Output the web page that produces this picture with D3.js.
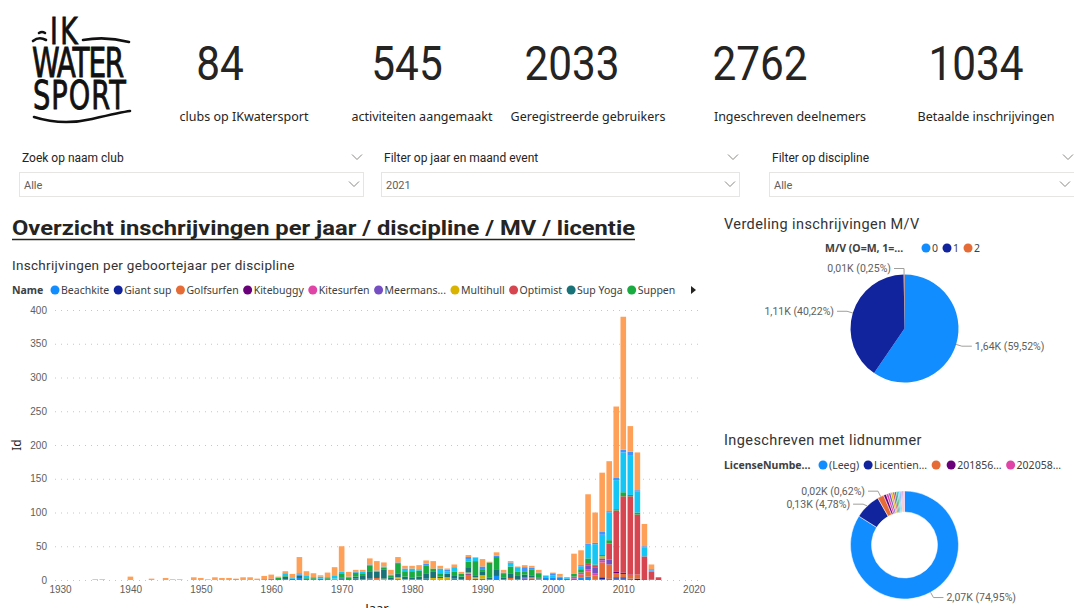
<!DOCTYPE html>
<meta charset="utf-8">
<style>

body { margin: 0; background: #fff; }
svg { display: block; font-family: "Noto Sans", "Segoe UI", sans-serif; }

.kpi-value { font-family: Roboto, sans-serif; font-size: 48px; fill: #252423; }
.kpi-label { font-size: 12.5px; fill: #252423; }
.slicer-title { font-family: Roboto, sans-serif; font-size: 12px; fill: #252423; }
.slicer-value { font-family: Roboto, sans-serif; font-size: 11px; fill: #605E5C; }
.chev { fill: none; stroke: #8a8886; stroke-width: 1; }
.axis text { font-size: 10px; fill: #605E5C; }
.grid line { stroke: #c8c6c4; stroke-dasharray: 1,5; }
.legend text { font-size: 10.5px; fill: #404040; }
.lead { fill: none; stroke: #a19f9d; stroke-width: 1; }
.dlabel { font-family: Roboto, sans-serif; font-size: 10.5px; fill: #605E5C; }
.vtitle { font-family: Roboto, sans-serif; font-size: 14.5px; letter-spacing: 0.4px; fill: #333; }

</style>
<svg width="1074" height="608"></svg>
<script src="https://d3js.org/d3.v7.min.js"></script>
<script>

// KPI cards
var kpiValues = [84, 545, 2033, 2762, 1034];
var kpiLabels = ["clubs op IKwatersport", "activiteiten aangemaakt", "Geregistreerde gebruikers",
                 "Ingeschreven deelnemers", "Betaalde inschrijvingen"];

// slicers
var slicerTitles = ["Zoek op naam club", "Filter op jaar en maand event", "Filter op discipline"];
var slicerValues = ["Alle", "2021", "Alle"];

// stacked bars: registrations per birth year per discipline
var years = [1935,1936,1937,1938,1939,1940,1941,1942,1943,1944,
             1945,1946,1947,1948,1949,1950,1951,1952,1953,1954,
             1955,1956,1957,1958,1959,1960,1961,1962,1963,1964,
             1965,1966,1967,1968,1969,1970,1971,1972,1973,1974,
             1975,1976,1977,1978,1979,1980,1981,1982,1983,1984,
             1985,1986,1987,1988,1989,1990,1991,1992,1993,1994,
             1995,1996,1997,1998,1999,2000,2001,2002,2003,2004,
             2005,2006,2007,2008,2009,2010,2011,2012,2013,2014,
             2015];

var beachkite = [0,0,0,0,0,0,0,0,0,0, 0,0,0,0,0,0,0,0,0,0, 0,0,0,0,0,1,0,1,2,3,
                 2,1,2,0,1,2,0,2,1,1, 1,0,0,0,0,1,1,2,1,0, 1,2,1,0,0,2,1,6,1,1,
                 1,2,2,1,3,4,3,2,2,4, 5,1,1,1,2,2,2,0,0,1, 0];
var giantSup  = [0,0,0,0,0,0,0,0,0,0, 0,0,0,0,0,0,0,0,0,0, 0,0,0,0,0,0,0,0,0,0,
                 0,0,0,0,0,0,0,0,0,0, 0,0,0,0,0,0,0,0,0,0, 0,0,0,0,0,0,0,0,0,0,
                 0,0,0,0,0,0,0,0,0,0, 0,0,3,1,2,2,0,2,1,0, 0];
var golfsurfen = [0,0,0,0,0,0,0,0,0,0, 0,0,0,0,0,0,0,0,0,0, 0,0,0,0,0,0,0,0,0,0,
                 0,0,0,0,0,0,0,0,0,0, 2,0,0,2,0,0,0,0,0,0, 0,0,0,8,0,0,0,0,0,2,
                 0,0,2,1,0,0,0,0,0,4, 8,6,22,21,6,5,5,6,0,0, 0];
var kitebuggy = [0,0,0,0,0,0,0,0,0,0, 0,0,0,0,0,0,0,0,0,0, 0,0,0,0,0,0,0,0,0,0,
                 0,0,0,0,0,0,0,0,0,0, 0,0,0,0,0,0,0,0,0,0, 0,0,0,1,0,0,0,0,0,0,
                 0,0,0,0,0,0,0,0,0,0, 0,0,0,0,2,2,1,0,0,0, 0];
var kitesurfen = [0,0,0,0,0,0,0,0,0,0, 0,0,0,0,0,0,0,0,0,0, 0,0,0,0,0,0,0,0,0,0,
                 0,0,0,0,0,0,0,0,0,0, 0,0,0,0,0,0,0,0,0,0, 0,0,0,0,0,0,0,0,0,0,
                 0,0,0,0,0,0,0,0,3,3, 3,3,3,0,0,0,0,0,0,0, 0];
var meermans  = [0,0,0,0,0,0,0,0,0,0, 0,0,0,0,0,0,0,0,0,0, 0,0,0,0,0,1,0,0,0,0,
                 0,0,0,1,0,0,0,0,0,1, 0,0,1,0,0,0,0,0,0,0, 0,0,0,0,2,0,0,0,0,0,
                 0,2,0,0,0,0,0,0,0,0, 5,8,3,7,0,0,0,0,0,0, 0];
var multihull = [0,0,0,0,0,0,0,0,0,0, 0,0,0,0,0,0,0,0,0,0, 0,0,0,0,0,0,0,0,0,0,
                 0,0,0,0,1,0,0,0,0,0, 0,2,0,2,1,0,0,0,2,3, 3,0,0,2,2,5,0,0,0,0,
                 0,0,0,0,0,0,0,0,0,0, 0,0,3,0,0,0,0,0,0,0, 0];
var optimist  = [0,0,0,0,0,0,0,0,0,0, 0,0,0,0,0,0,0,0,0,0, 0,0,0,0,0,0,0,0,0,0,
                 0,0,0,0,0,0,0,0,0,0, 0,0,0,0,0,0,0,0,0,0, 0,0,0,0,0,0,0,0,0,0,
                 0,0,0,0,0,0,0,0,0,0, 4,3,0,24,91,113,116,89,34,11, 4];
var supYoga   = [0,0,0,0,0,0,0,0,0,0, 0,0,0,0,0,0,0,0,0,0, 0,0,0,0,0,0,0,4,0,4,
                 0,1,0,1,0,2,0,3,5,11, 9,13,3,6,4,3,4,7,9,2, 5,4,4,8,2,6,3,10,3,7,
                 5,4,3,2,0,0,0,0,0,0, 0,0,0,0,0,0,0,0,0,0, 0];
var suppen    = [0,0,0,0,0,0,0,0,0,0, 0,0,0,0,0,0,0,0,0,0, 1,0,0,0,1,0,3,2,0,0,
                 1,2,0,2,0,6,3,6,4,8, 0,3,2,15,8,9,9,12,5,5, 0,6,4,8,22,3,22,18,5,10,
                 6,5,8,5,0,0,0,0,4,5, 7,2,2,5,2,6,2,3,0,0, 0];
var surfen    = [0,0,0,0,0,0,0,0,0,0, 0,0,0,0,0,0,0,1,0,0, 0,0,0,0,0,0,1,2,1,1,
                 4,0,3,0,5,2,2,0,2,0, 2,2,2,0,2,4,2,0,0,7, 4,7,0,4,5,0,0,0,0,4,
                 7,0,0,0,3,3,2,2,0,4, 20,30,30,41,43,59,58,31,13,2, 0];
var wakeboard = [0,0,0,0,0,0,0,0,0,0, 0,0,0,0,0,0,0,0,0,0, 0,0,0,0,0,0,0,1,0,2,
                 0,0,0,0,0,0,0,1,0,2, 0,0,0,1,2,0,0,3,0,0, 2,0,0,3,0,4,0,2,2,2,
                 0,6,3,2,0,3,0,0,0,2, 2,2,5,2,4,4,6,2,2,2, 0];
var zeilen    = [1,1,0,0,0,5,0,0,2,0, 3,1,1,0,4,3,1,3,3,3, 1,4,4,2,5,6,1,3,6,24,
                 6,6,2,7,12,38,7,3,3,9, 14,6,7,8,4,4,6,5,11,4, 2,4,3,3,1,11,1,5,4,2,
                 1,3,3,4,1,1,4,0,30,22, 73,45,87,74,105,197,38,56,33,7, 0];

var seriesNames = ["Beachkite", "Giant sup", "Golfsurfen", "Kitebuggy", "Kitesurfen", "Meermanszwemmen",
                   "Multihull", "Optimist", "Sup Yoga", "Suppen", "Surfen", "Wakeboarden", "Zeilen"];
var seriesData = [beachkite, giantSup, golfsurfen, kitebuggy, kitesurfen, meermans,
                  multihull, optimist, supYoga, suppen, surfen, wakeboard, zeilen];
var palette = ["#118DFF", "#12239E", "#E66C37", "#6B007B", "#E044A7", "#744EC2", "#D9B300",
               "#D64550", "#197278", "#1AAB40", "#15C6F4", "#4092FF", "#FFA058", "#BE5DC9",
               "#F472D0", "#B5A1FF", "#C4A200", "#FF8080", "#00DBBC", "#5BD667"];
var yTicks = [0, 50, 100, 150, 200, 250, 300, 350, 400];
var xTicks = [1930, 1940, 1950, 1960, 1970, 1980, 1990, 2000, 2010, 2020];

// pie M/V
var mvNames = ["0", "1", "2"];
var mvValues = [1644, 1111, 7];

var licenseNames = ["(Leeg)", "Licentienummer", "", "201856...", "202058...", "l6", "l7", "l8",
                    "l9", "l10", "l11", "l12", "l13", "l14", "l15"];
var licenseLegend = ["(Leeg)", "Licentien...", "", "201856...", "202058..."];
var licenseValues = [2070, 192, 47, 20, 18, 16, 15, 14, 13, 12, 11, 10, 10, 9, 8];
var licenseLabels = ["2,07K (74,95%)", "0,13K (4,78%)", "0,02K (0,62%)"];

var svg = d3.select("svg");

function shortName(n) {
  return n.length > 10 ? n.slice(0, 8) + "..." : n;
}

function chevron(g, x, y) {
  g.append("path").attr("class", "chev")
    .attr("d", "M" + (x - 5) + "," + (y - 2.5) + "L" + x + "," + (y + 2.5) + "L" + (x + 5) + "," + (y - 2.5));
}

// ---- logo (one condensed text block, 3 lines)
var logo = svg.append("g").attr("fill", "#111").attr("stroke", "#111");
var logoText = logo.append("text").attr("transform", "scale(0.7,1)")
  .style("font-family", "DejaVu Sans, sans-serif").attr("stroke-width", 0.9);
logoText.append("tspan").attr("x", 71.4).attr("y", 44).style("font-size", "38px").style("letter-spacing", "3.4px").text("IK");
logoText.append("tspan").attr("x", 45.7).attr("y", 77).style("font-size", "40px").style("letter-spacing", "-1.8px").text("WATER");
logoText.append("tspan").attr("x", 47.1).attr("y", 109).style("font-size", "39px").style("letter-spacing", "1.4px").text("SPORT");
logo.selectAll("path.sw")
  .data(["M83,40 Q106,36 129,42", "M33,41 Q39,36 46,40", "M39,33 Q42,31 45,33", "M34,117 Q62,126 92,119 T130,111"])
  .enter().append("path").attr("class", "sw").attr("d", function(d) { return d; })
  .attr("fill", "none").attr("stroke-width", 2.6).attr("stroke-linecap", "round");

// ---- KPI cards
var kpiValueX = [220, 407, 572, 760, 976];
var kpiLabelX = [244, 422, 588, 790, 986];
kpiValues.forEach(function(v, i) {
  var s = String(v);
  svg.append("text").attr("class", "kpi-value").attr("x", kpiValueX[i]).attr("y", 80)
    .attr("text-anchor", "middle").attr("textLength", s.length * 23.8).attr("lengthAdjust", "spacingAndGlyphs")
    .text(s);
  svg.append("text").attr("class", "kpi-label").attr("x", kpiLabelX[i]).attr("y", 121)
    .attr("text-anchor", "middle").text(kpiLabels[i]);
});

// ---- slicers
var slicerX = [19, 381, 769];
var slicerW = [345, 359, 306];
slicerTitles.forEach(function(t, i) {
  var g = svg.append("g");
  g.append("text").attr("class", "slicer-title").attr("x", slicerX[i] + 3).attr("y", 162).text(t);
  chevron(g, slicerX[i] + slicerW[i] - 7, 157);
  g.append("rect").attr("x", slicerX[i] + 0.5).attr("y", 172.5).attr("width", slicerW[i] - 1).attr("height", 24)
    .attr("fill", "#fff").attr("stroke", "#e6e5e4");
  g.append("text").attr("class", "slicer-value").attr("x", slicerX[i] + 5).attr("y", 189).text(slicerValues[i]);
  chevron(g, slicerX[i] + slicerW[i] - 10, 184);
});

// ---- section title
svg.append("text").attr("x", 12).attr("y", 235).attr("textLength", 623).attr("lengthAdjust", "spacingAndGlyphs")
  .style("font-family", "Roboto, sans-serif").style("font-weight", "bold").style("font-size", "21px")
  .attr("fill", "#252423").text("Overzicht inschrijvingen per jaar / discipline / MV / licentie");
svg.append("line").attr("x1", 12).attr("x2", 635).attr("y1", 239.5).attr("y2", 239.5)
  .attr("stroke", "#252423").attr("stroke-width", 1.6);

// ---- stacked column chart
svg.append("text").attr("class", "vtitle").attr("x", 12).attr("y", 270)
  .style("font-size", "13.5px").style("letter-spacing", "0.3px")
  .text("Inschrijvingen per geboortejaar per discipline");

var x = d3.scaleLinear().domain([1930, 2020]).range([60, 693.7]);
var y = d3.scaleLinear().domain([0, 400]).range([580, 310]);

var rows = years.map(function(yr, i) {
  var r = { year: yr };
  seriesNames.forEach(function(n, k) { r[n] = seriesData[k][i]; });
  return r;
});
var stacked = d3.stack().keys(seriesNames)(rows);

svg.append("g").attr("class", "grid")
  .selectAll("line").data(yTicks).enter().append("line")
  .attr("x1", 55).attr("x2", 700)
  .attr("y1", function(d) { return y(d) + 0.5; }).attr("y2", function(d) { return y(d) + 0.5; });

var bw = 5.6;
svg.append("g").selectAll("g").data(stacked).enter().append("g")
  .attr("fill", function(d, i) { return palette[i]; })
  .selectAll("rect").data(function(d) { return d.filter(function(p) { return p[1] > p[0]; }); })
  .enter().append("rect")
  .attr("x", function(d) { return x(d.data.year) - bw / 2; })
  .attr("y", function(d) { return y(d[1]); })
  .attr("width", bw)
  .attr("height", function(d) { return y(d[0]) - y(d[1]); });

var yAxis = svg.append("g").attr("class", "axis").attr("transform", "translate(50,0)")
  .call(d3.axisLeft(y).tickValues(yTicks).tickSize(0).tickPadding(3));
yAxis.select(".domain").remove();

var xAxis = svg.append("g").attr("class", "axis").attr("transform", "translate(0,580)")
  .call(d3.axisBottom(x).tickValues(xTicks).tickFormat(d3.format("d")).tickSize(0).tickPadding(6));
xAxis.select(".domain").remove();

svg.append("text").attr("transform", "translate(21,445) rotate(-90)").attr("text-anchor", "middle")
  .style("font-size", "12px").attr("fill", "#252423").text("Id");
svg.append("text").attr("x", 377).attr("y", 613).attr("text-anchor", "middle")
  .style("font-size", "13px").attr("fill", "#252423").text("Jaar");

// legend
var lg = svg.append("g").attr("class", "legend");
lg.append("text").attr("x", 12).attr("y", 294).style("font-weight", "bold").attr("fill", "#252423").text("Name");
var lx = 55;
seriesNames.slice(0, 10).forEach(function(n, i) {
  lg.append("circle").attr("cx", lx).attr("cy", 290).attr("r", 4.5).attr("fill", palette[i]);
  var t = lg.append("text").attr("x", lx + 6).attr("y", 294).text(shortName(n));
  lx += 6 + t.node().getComputedTextLength() + 9;
});
lg.append("path").attr("d", "M691,286L696,290L691,294Z").attr("fill", "#252423");

// ---- pie / donut helper
function drawLeaders(g, arcs, r, cx, cy, texts) {
  var items = arcs.map(function(a, i) {
    var m = (a.startAngle + a.endAngle) / 2;
    var sx = Math.sin(m), sy = -Math.cos(m);
    var dir = sx >= 0 ? 1 : -1;
    if (Math.abs(sx) < 0.02) dir = -1;
    return { i: i, dir: dir,
             p0: [cx + r * sx, cy + r * sy],
             p1: [cx + (r + 6) * sx, cy + (r + 6) * sy],
             ly: cy + (r + 6) * sy };
  });
  // keep labels on the same side at least 13px apart
  [-1, 1].forEach(function(side) {
    var s = items.filter(function(d) { return d.dir === side; }).sort(function(a, b) { return a.ly - b.ly; });
    for (var k = 1; k < s.length; k++) {
      if (s[k].ly - s[k - 1].ly < 13) s[k].ly = s[k - 1].ly + 13;
    }
  });
  items.forEach(function(d) {
    var p1 = [d.p1[0], d.ly];
    var p2 = [p1[0] + d.dir * 10, d.ly];
    g.append("path").attr("class", "lead").attr("d", "M" + d.p0 + "L" + p1 + "L" + p2);
    g.append("text").attr("class", "dlabel").attr("x", p2[0] + d.dir * 3).attr("y", d.ly)
      .attr("dominant-baseline", "central").attr("text-anchor", d.dir > 0 ? "start" : "end").text(texts[d.i]);
  });
}

function drawLegend(g, title, titleX, startX, yy, labels, colors) {
  g.append("text").attr("x", titleX).attr("y", yy + 4).style("font-size", "10.5px").style("font-weight", "bold")
    .attr("fill", "#404040").text(title);
  var cx = startX;
  labels.forEach(function(l, i) {
    g.append("circle").attr("cx", cx).attr("cy", yy).attr("r", 4.5).attr("fill", colors[i]);
    var t = g.append("text").attr("x", cx + 6).attr("y", yy + 4).style("font-size", "10.5px").attr("fill", "#404040").text(l);
    cx += 6 + t.node().getComputedTextLength() + 9;
  });
}

function fmt(v, total) {
  return (v / 1000).toFixed(2).replace(".", ",") + "K (" + (v / total * 100).toFixed(2).replace(".", ",") + "%)";
}

// ---- pie M/V
var pg = svg.append("g");
pg.append("text").attr("class", "vtitle").attr("x", 724).attr("y", 229).text("Verdeling inschrijvingen M/V");
drawLegend(pg, "M/V (O=M, 1=...", 825, 926, 248, mvNames, palette);

var pie = d3.pie().sort(null).value(function(d) { return d; });
var mvArcs = pie(mvValues);
var mvTotal = d3.sum(mvValues);
var pcx = 904.5, pcy = 328.5, pr = 54;
pg.append("g").attr("transform", "translate(" + pcx + "," + pcy + ")")
  .selectAll("path").data(mvArcs).enter().append("path")
  .attr("d", d3.arc().innerRadius(0).outerRadius(pr))
  .attr("fill", function(d, i) { return palette[i]; });
drawLeaders(pg, mvArcs, pr, pcx, pcy, mvValues.map(function(v) { return fmt(v, mvTotal); }));

// ---- donut licence
var dg = svg.append("g");
dg.append("text").attr("class", "vtitle").attr("x", 724).attr("y", 445).text("Ingeschreven met lidnummer");
drawLegend(dg, "LicenseNumbe...", 724, 823, 465, licenseLegend, palette);

var lArcs = pie(licenseValues);
var dcx = 904.5, dcy = 545, dr = 54;
dg.append("g").attr("transform", "translate(" + dcx + "," + dcy + ")")
  .selectAll("path").data(lArcs).enter().append("path")
  .attr("d", d3.arc().innerRadius(33).outerRadius(dr))
  .attr("fill", function(d, i) { return palette[i % palette.length]; })
  .attr("stroke", "#fff").attr("stroke-width", 0.5);
drawLeaders(dg, lArcs.slice(0, 3), dr, dcx, dcy, licenseLabels);

</script>
